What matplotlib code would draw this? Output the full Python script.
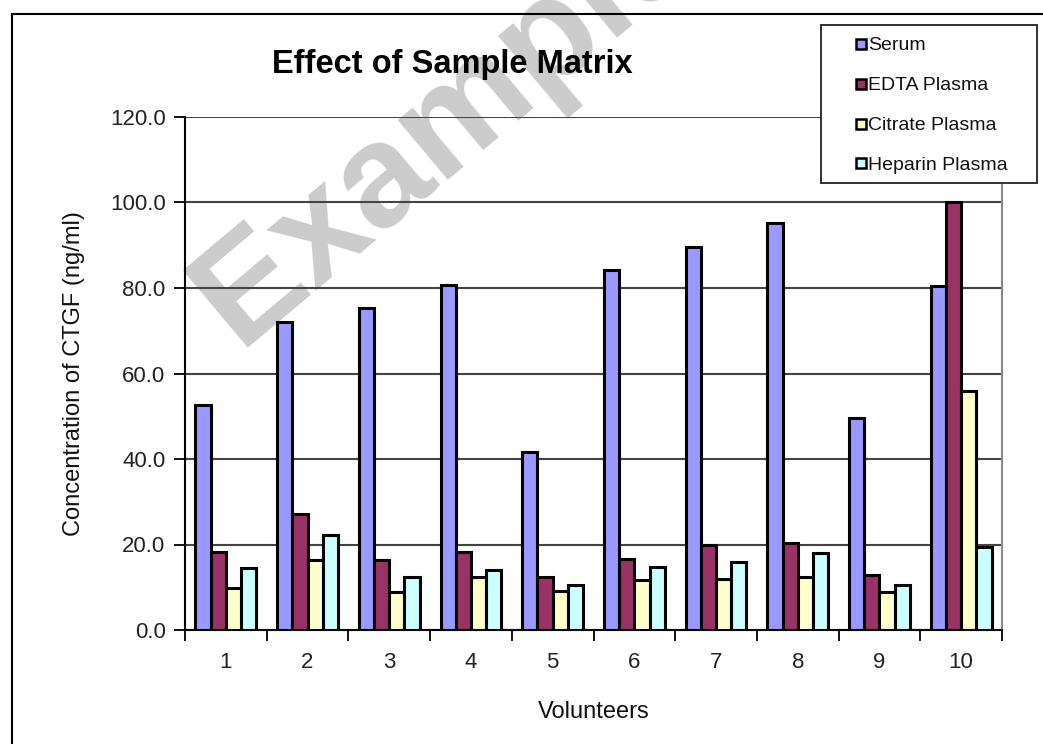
import matplotlib
matplotlib.use("Agg")
import matplotlib.pyplot as plt
from matplotlib.lines import Line2D
from matplotlib.patches import Rectangle
import numpy as np

plt.rcParams['font.family'] = ['Liberation Sans', 'DejaVu Sans']

volunteers = ['1', '2', '3', '4', '5', '6', '7', '8', '9', '10']
series_names = ['Serum', 'EDTA Plasma', 'Citrate Plasma', 'Heparin Plasma']
serum = [52.7, 72.1, 75.3, 80.8, 41.6, 84.1, 89.6, 95.2, 49.5, 80.4]
edta = [18.2, 27.1, 16.3, 18.2, 12.4, 16.6, 20.0, 20.3, 12.8, 100.0]
citrate = [9.8, 16.3, 8.8, 12.4, 9.2, 11.7, 12.0, 12.4, 8.8, 55.8]
heparin = [14.6, 22.2, 12.4, 14.1, 10.5, 14.7, 16.0, 18.0, 10.5, 19.4]
colors = ['#9999FF', '#993366', '#FFFFCC', '#CCFFFF']
yticks = [0, 20, 40, 60, 80, 100, 120]

W, H = 1043, 744
fig = plt.figure(figsize=(W / 100, H / 100), dpi=100)
fig.patch.set_facecolor('white')


def fx(px):
    return px / W


def fy(py):
    return 1 - py / H


# watermark (behind the axes)
fig.text(fx(238), fy(348), 'Example', fontsize=106, fontweight='bold',
         color='#cccccc', rotation=40, rotation_mode='anchor',
         ha='left', va='baseline', zorder=-1)

# chart area border (left and top visible)
fig.add_artist(Line2D([fx(12), fx(12)], [0, fy(14)], transform=fig.transFigure,
                      color='black', lw=1.5))
fig.add_artist(Line2D([fx(12), 1], [fy(14), fy(14)], transform=fig.transFigure,
                      color='black', lw=1.5))

ax = fig.add_axes([fx(185), fy(630), (1002 - 185) / W, (630 - 117) / H])
ax.set_facecolor('none')

x = np.arange(1, len(volunteers) + 1)
bw = 0.186
data = [serum, edta, citrate, heparin]
for k, (vals, c) in enumerate(zip(data, colors)):
    ax.bar(x + (k - 1.5) * bw, vals, width=bw, color=c, edgecolor='black',
           linewidth=2.2, zorder=3)

ax.set_xlim(0.5, len(volunteers) + 0.5)
ax.set_ylim(0, 120)
ax.set_yticks(yticks)
ax.set_yticklabels([f'{v:.1f}' for v in yticks])
ax.yaxis.grid(True, color='#444444', linewidth=1.5, zorder=1)
ax.set_axisbelow(True)

ax.set_xticks(x)
ax.set_xticklabels(volunteers)
ax.tick_params(axis='x', which='major', length=0, pad=16, labelsize=16, colors='#222222')
ax.set_xticks(np.arange(0.5, len(volunteers) + 1.0, 1.0), minor=True)
ax.tick_params(axis='x', which='minor', length=8, width=1.3, direction='out', color='black')
ax.tick_params(axis='y', length=8, width=1.3, direction='out', labelsize=16, pad=6,
               labelcolor='#222222')

for s in ['left', 'bottom']:
    ax.spines[s].set_color('black')
    ax.spines[s].set_linewidth(1.5)
ax.spines['top'].set_visible(False)
ax.spines['right'].set_color('#888888')
ax.spines['right'].set_linewidth(1.5)

ax.set_ylabel('Concentration of CTGF (ng/ml)', fontsize=17, labelpad=18, color='#111111')
ax.set_xlabel('Volunteers', fontsize=17, labelpad=20, color='#111111')

fig.text(fx(452), fy(64), 'Effect of Sample Matrix', fontsize=23.5, fontweight='bold',
         ha='center', va='center')

# legend, drawn by hand to match the box geometry
fig.add_artist(Rectangle((fx(821), fy(183)), fx(1037) - fx(821), fy(25) - fy(183),
                         transform=fig.transFigure, facecolor='white',
                         edgecolor='#222222', linewidth=1.3, zorder=5))
entry_y = [44, 84, 124, 163]
for name, c, yy in zip(series_names, colors, entry_y):
    fig.add_artist(Rectangle((fx(856), fy(yy + 5)), fx(866) - fx(856), fy(yy - 5) - fy(yy + 5),
                             transform=fig.transFigure, facecolor=c,
                             edgecolor='black', linewidth=1.8, zorder=6))
    fig.text(fx(868), fy(yy + 2), name, fontsize=14, ha='left', va='center',
             color='#111111', zorder=6)

fig.savefig('out.png', dpi=100)
